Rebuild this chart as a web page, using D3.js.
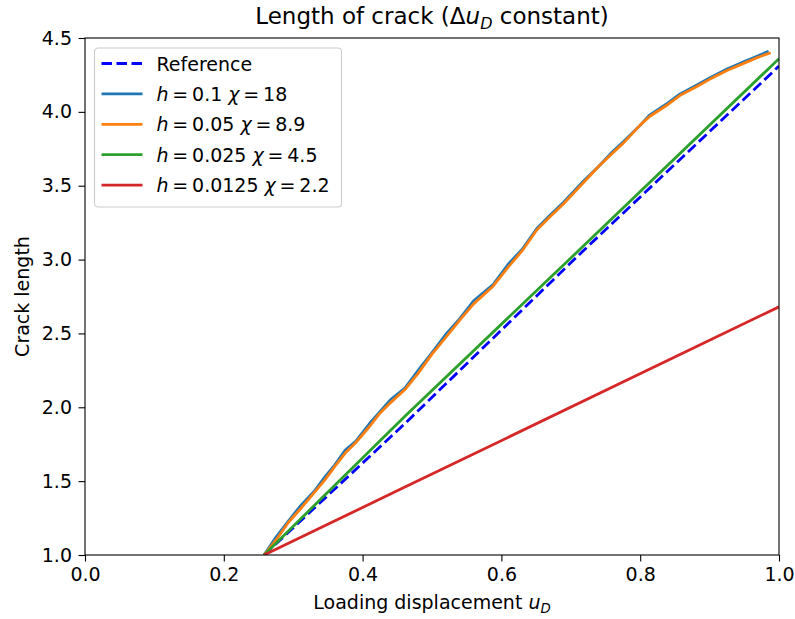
<!DOCTYPE html>
<html>
<head>
<meta charset="utf-8">
<script src="https://cdn.jsdelivr.net/npm/d3@7"></script>
<style>
  body { margin: 0; background: #fff; }
  svg { font-family: "DejaVu Sans", sans-serif; }
</style>
</head>
<body>
<div id="chart"></div>
<script>
// values
var refU = [0.258, 0.461, 0.718, 1.0];
var refL = [1.0, 1.89, 3.06, 4.31];

var h1U = [0.258, 0.275, 0.293, 0.31, 0.33, 0.346, 0.36, 0.375, 0.39, 0.41, 0.425, 0.44, 0.461, 0.48, 0.5, 0.521, 0.54, 0.56, 0.588, 0.61, 0.63, 0.651, 0.67, 0.69, 0.718, 0.74, 0.76, 0.776, 0.8, 0.814, 0.84, 0.857, 0.881, 0.9, 0.925, 0.95, 0.97, 0.985];
var h1L = [1.0, 1.12, 1.23, 1.33, 1.43, 1.53, 1.61, 1.71, 1.77, 1.89, 1.97, 2.05, 2.13, 2.25, 2.37, 2.5, 2.6, 2.72, 2.83, 2.97, 3.07, 3.21, 3.3, 3.39, 3.53, 3.63, 3.73, 3.8, 3.91, 3.98, 4.06, 4.12, 4.18, 4.23, 4.29, 4.34, 4.38, 4.41];

var h2U = [0.258, 0.275, 0.293, 0.31, 0.33, 0.346, 0.36, 0.375, 0.39, 0.41, 0.425, 0.44, 0.461, 0.48, 0.5, 0.521, 0.54, 0.56, 0.588, 0.61, 0.63, 0.651, 0.67, 0.69, 0.718, 0.74, 0.76, 0.776, 0.8, 0.814, 0.84, 0.857, 0.881, 0.9, 0.925, 0.95, 0.97, 0.988];
var h2L = [1.0, 1.1, 1.22, 1.31, 1.42, 1.51, 1.6, 1.69, 1.76, 1.87, 1.96, 2.03, 2.12, 2.23, 2.36, 2.48, 2.59, 2.7, 2.82, 2.95, 3.06, 3.2, 3.29, 3.38, 3.52, 3.63, 3.72, 3.79, 3.91, 3.97, 4.05, 4.11, 4.17, 4.22, 4.28, 4.33, 4.37, 4.4];

var h3U = [0.258, 0.461, 0.72, 1.0];
var h3L = [1.0, 1.94, 3.1, 4.36];

var h4U = [0.258, 0.461, 1.0];
var h4L = [1.0, 1.46, 2.68];

var xTicks = [0.0, 0.2, 0.4, 0.6, 0.8, 1.0];
var yTicks = [1.0, 1.5, 2.0, 2.5, 3.0, 3.5, 4.0, 4.5];

var series = [
  {h: "0.1", chi: "18", u: h1U, l: h1L, color: "#1f77b4"},
  {h: "0.05", chi: "8.9", u: h2U, l: h2L, color: "#ff7f0e"},
  {h: "0.025", chi: "4.5", u: h3U, l: h3L, color: "#2ca02c"},
  {h: "0.0125", chi: "2.2", u: h4U, l: h4L, color: "#d62728"}
];

// set the dimensions and margins of the graph
var margin = {top: 38, right: 16, bottom: 64, left: 85},
    width = 795 - margin.left - margin.right,
    height = 619 - margin.top - margin.bottom;

var root = d3.select('#chart').append('svg')
    .attr('width', 795)
    .attr('height', 619);

var svg = root.append('g')
    .attr('transform', "translate(" + margin.left + "," + margin.top + ")");

var x = d3.scaleLinear().domain([0, 1]).range([0, width]);
var y = d3.scaleLinear().domain([1, 4.5]).range([height, 0]);

var lw = 2.8;
var dash = '10.5,4.5';
var line = d3.line()
    .x(function(d){ return x(d[0]); })
    .y(function(d){ return y(d[1]); });

svg.append('clipPath').attr('id', 'clip')
  .append('rect').attr('width', width).attr('height', height);

var plot = svg.append('g').attr('clip-path', 'url(#clip)');

// reference dashed line first
plot.append('path')
   .datum(d3.zip(refU, refL))
   .attr('fill', 'none')
   .attr('stroke', '#0000ff')
   .attr('stroke-width', lw)
   .attr('stroke-dasharray', dash)
   .attr('d', line);

series.forEach(function(s){
  plot.append('path')
     .datum(d3.zip(s.u, s.l))
     .attr('fill', 'none')
     .attr('stroke', s.color)
     .attr('stroke-width', lw)
     .attr('stroke-linejoin', 'round')
     .attr('d', line);
});

// axes
var fs = 19;
var xAxis = svg.append('g').attr("transform", "translate(0," + height + ")")
    .call(d3.axisBottom(x).tickValues(xTicks).tickFormat(d3.format('.1f')).tickSizeOuter(0).tickSize(6.5).tickPadding(6));
var yAxis = svg.append('g')
    .call(d3.axisLeft(y).tickValues(yTicks).tickFormat(d3.format('.1f')).tickSizeOuter(0).tickSize(6.5).tickPadding(6.5));

[xAxis, yAxis].forEach(function(a){
  a.select('.domain').remove();
  a.selectAll('line').attr('stroke', '#000').attr('stroke-width', 1.1);
  a.selectAll('text').attr('font-size', fs).attr('font-family', '"DejaVu Sans", sans-serif').attr('fill', '#000');
});

// frame
svg.append('rect')
   .attr('width', width).attr('height', height)
   .attr('fill', 'none').attr('stroke', '#000').attr('stroke-width', 1.1);

// title
var title = root.append('text')
   .attr('x', margin.left + width / 2).attr('y', 24)
   .attr('text-anchor', 'middle').attr('font-size', 23);
title.append('tspan').text('Length of crack (\u0394');
title.append('tspan').attr('font-style', 'italic').text('u');
title.append('tspan').attr('font-style', 'italic').attr('font-size', 16).attr('dy', 4.5).text('D');
title.append('tspan').attr('dy', -4.5).text(' constant)');

// x label
var xl = root.append('text')
   .attr('x', margin.left + width / 2).attr('y', 609)
   .attr('text-anchor', 'middle').attr('font-size', fs);
xl.append('tspan').text('Loading displacement ');
xl.append('tspan').attr('font-style', 'italic').text('u');
xl.append('tspan').attr('font-style', 'italic').attr('font-size', 13.3).attr('dy', 4).text('D');

// y label
root.append('text')
   .attr('transform', 'translate(29,' + (margin.top + height / 2) + ') rotate(-90)')
   .attr('text-anchor', 'middle').attr('font-size', fs)
   .text('Crack length');

// legend
var leg = svg.append('g').attr('transform', 'translate(9.5,10)');
leg.append('rect')
   .attr('width', 247).attr('height', 159).attr('rx', 3.5)
   .attr('fill', '#fff').attr('fill-opacity', 0.8)
   .attr('stroke', '#cccccc').attr('stroke-width', 1.1);

var rows = [{label: null, color: '#0000ff', dash: dash}].concat(series.map(function(s){
  return {label: s, color: s.color, dash: null};
}));

rows.forEach(function(r, i){
  var cy = 15.5 + i * 30.4;
  leg.append('line')
     .attr('x1', 7).attr('x2', 48).attr('y1', cy).attr('y2', cy)
     .attr('stroke', r.color).attr('stroke-width', lw)
     .attr('stroke-dasharray', r.dash);
  var t = leg.append('text').attr('x', 62).attr('y', cy + 7).attr('font-size', fs);
  if (!r.label) {
    t.text('Reference');
  } else {
    t.append('tspan').attr('font-style', 'italic').text('h');
    t.append('tspan').text('\u2009=\u2009' + r.label.h + ' ');
    t.append('tspan').attr('font-style', 'italic').text('\u03c7');
    t.append('tspan').text('\u2009=\u2009' + r.label.chi);
  }
});
</script>
</body>
</html>
